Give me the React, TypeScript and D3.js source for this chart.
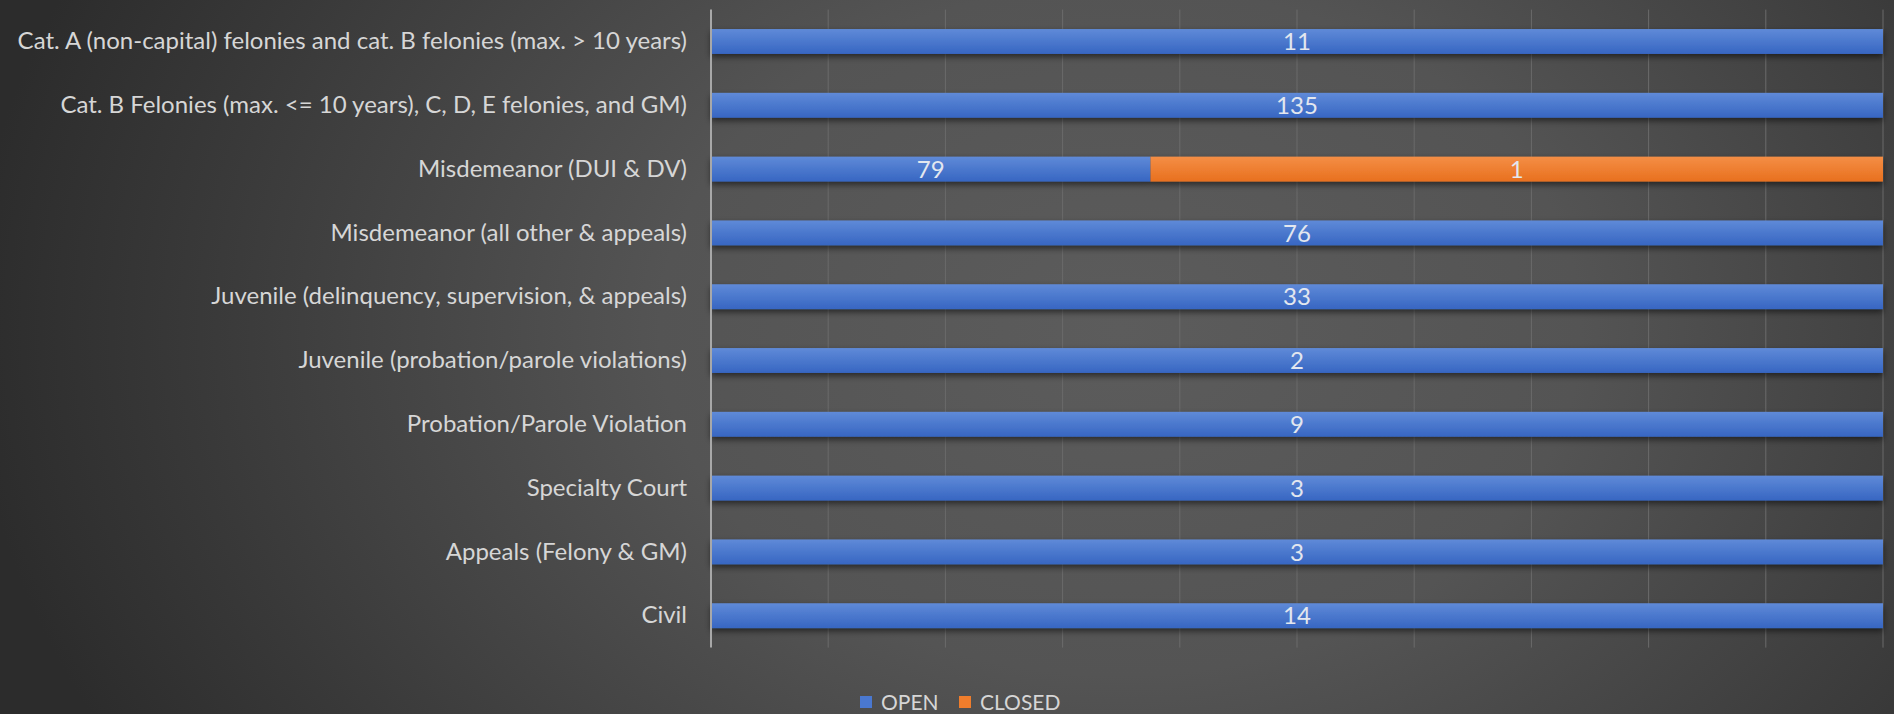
import * as d3 from "d3";
import { useEffect, useRef } from "react";

const categories = [
  "Cat. A (non-capital) felonies and cat. B felonies (max. > 10 years)",
  "Cat. B Felonies (max. <= 10 years), C, D, E felonies, and GM)",
  "Misdemeanor (DUI & DV)",
  "Misdemeanor (all other & appeals)",
  "Juvenile (delinquency, supervision, & appeals)",
  "Juvenile (probation/parole violations)",
  "Probation/Parole Violation",
  "Specialty Court",
  "Appeals (Felony & GM)",
  "Civil",
];

// labels printed on the bars
const openCounts = [11, 135, 79, 76, 33, 2, 9, 3, 3, 14];
const closedCounts = [0, 0, 1, 0, 0, 0, 0, 0, 0, 0];

// share of the bar length (100% stacked) as drawn in the picture
const openShare = [1, 1, 0.375, 1, 1, 1, 1, 1, 1, 1];
const closedShare = [0, 0, 0.625, 0, 0, 0, 0, 0, 0, 0];

const xTicks = [0, 0.1, 0.2, 0.3, 0.4, 0.5, 0.6, 0.7, 0.8, 0.9, 1];

const W = 1894;
const H = 714;

const redraw = (svgEl: SVGSVGElement) => {
  const svg = d3.select(svgEl);
  svg.selectAll("*").remove();

  const defs = svg.append("defs");
  const bg = defs.append("radialGradient")
    .attr("id", "bg")
    .attr("gradientUnits", "userSpaceOnUse")
    .attr("cx", 1120).attr("cy", 330).attr("r", 1150)
    .attr("gradientTransform", "translate(1120,330) scale(1,0.75) translate(-1120,-330)");
  bg.append("stop").attr("offset", 0).attr("stop-color", "#5c5c5c");
  bg.append("stop").attr("offset", 0.4).attr("stop-color", "#545454");
  bg.append("stop").attr("offset", 0.8).attr("stop-color", "#393939");
  bg.append("stop").attr("offset", 1).attr("stop-color", "#2c2c2c");

  const blueG = defs.append("linearGradient").attr("id", "blueG").attr("x1", 0).attr("x2", 0).attr("y1", 0).attr("y2", 1);
  blueG.append("stop").attr("offset", 0).attr("stop-color", "#5f8ad8");
  blueG.append("stop").attr("offset", 1).attr("stop-color", "#3766c2");
  const orangeG = defs.append("linearGradient").attr("id", "orangeG").attr("x1", 0).attr("x2", 0).attr("y1", 0).attr("y2", 1);
  orangeG.append("stop").attr("offset", 0).attr("stop-color", "#f48e45");
  orangeG.append("stop").attr("offset", 1).attr("stop-color", "#e8701f");

  const shadow = defs.append("filter").attr("id", "shadow").attr("x", "-5%").attr("y", "-50%").attr("width", "110%").attr("height", "220%");
  shadow.append("feDropShadow").attr("dx", 0).attr("dy", 3).attr("stdDeviation", 3)
    .attr("flood-color", "#000").attr("flood-opacity", 0.55);

  svg.append("rect").attr("width", W).attr("height", H).attr("fill", "url(#bg)");

  const x = d3.scaleLinear().domain([0, 1]).range([711, 1883]);
  const y = d3.scaleBand().domain(categories).range([9.6, 647.6]).paddingInner(0.61).paddingOuter(0.305);

  // gridlines
  svg.append("g").selectAll("line").data(xTicks.slice(1)).join("line")
    .attr("x1", d => x(d)).attr("x2", d => x(d))
    .attr("y1", 9.6).attr("y2", 647.6)
    .attr("stroke", "#6b6b6b").attr("stroke-width", 1);

  const rows = categories.map((c, i) => ({
    cat: c, open: openShare[i], closed: closedShare[i], openN: openCounts[i], closedN: closedCounts[i],
  }));
  const series = d3.stack<any>().keys(["open", "closed"])(rows);
  const fills: Record<string, string> = { open: "url(#blueG)", closed: "url(#orangeG)" };

  const barG = svg.append("g").attr("filter", "url(#shadow)");
  series.forEach(s => {
    barG.append("g").selectAll("rect").data(s.filter(d => d[1] - d[0] > 0)).join("rect")
      .attr("x", d => x(d[0]))
      .attr("width", d => x(d[1]) - x(d[0]))
      .attr("y", d => y(d.data.cat)!)
      .attr("height", y.bandwidth())
      .attr("fill", fills[s.key]);
  });

  const labG = svg.append("g")
    .style("font-family", "Lato, 'Open Sans', sans-serif")
    .style("font-size", "24px")
    .attr("fill", "#e3e7ef")
    .attr("text-anchor", "middle");
  series.forEach(s => {
    labG.append("g").selectAll("text").data(s.filter(d => d[1] - d[0] > 0)).join("text")
      .attr("x", d => (x(d[0]) + x(d[1])) / 2)
      .attr("y", d => y(d.data.cat)! + y.bandwidth() / 2)
      .attr("dy", "0.36em")
      .text(d => s.key === "open" ? d.data.openN : d.data.closedN);
  });

  // y axis
  const axisG = svg.append("g").attr("transform", `translate(${x(0)},0)`)
    .call(d3.axisLeft(y).tickSize(0).tickPadding(24));
  axisG.select(".domain").attr("stroke", "#a8a8a8").attr("stroke-width", 2)
    .attr("d", `M0,9.6V647.6`);
  axisG.selectAll("text")
    .style("font-family", "Lato, 'Open Sans', sans-serif")
    .style("font-size", "24px")
    .attr("fill", "#d6d6d6");

  // legend
  const legend = [
    { key: "OPEN", color: "#4a78d0", x: 860 },
    { key: "CLOSED", color: "#ef7d2c", x: 959 },
  ];
  const lg = svg.append("g").selectAll("g").data(legend).join("g")
    .attr("transform", d => `translate(${d.x},702)`);
  lg.append("rect").attr("x", 0).attr("y", -6).attr("width", 12).attr("height", 12).attr("fill", d => d.color);
  lg.append("text").attr("x", 21).attr("dy", "0.36em")
    .style("font-family", "Lato, 'Open Sans', sans-serif")
    .style("font-size", "21px")
    .attr("fill", "#d6d6d6")
    .text(d => d.key);
};

export default function App() {
  const ref = useRef<SVGSVGElement>(null);
  useEffect(() => {
    if (ref.current) redraw(ref.current);
  }, []);
  return (
    <div style={{ position: "absolute", left: 0, top: 0, width: W, height: H }}>
      <svg ref={ref} width={W} height={H} style={{ display: "block" }} />
    </div>
  );
}
